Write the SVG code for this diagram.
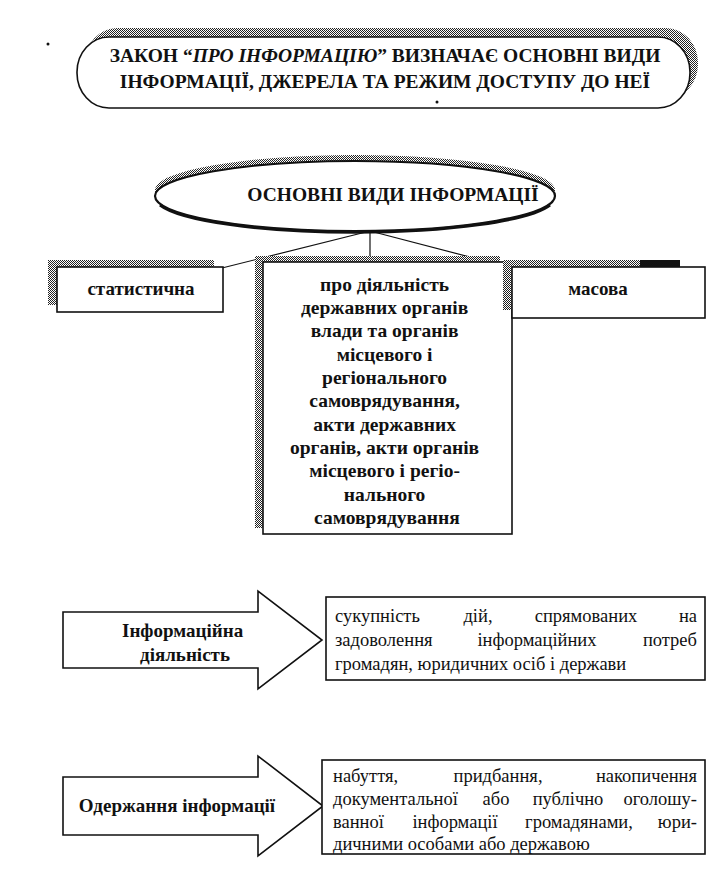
<svg xmlns="http://www.w3.org/2000/svg" width="719" height="877" viewBox="0 0 719 877">
<defs>
<pattern id="hatch" width="2" height="2" patternUnits="userSpaceOnUse">
<rect width="2" height="2" fill="#ffffff"/>
<rect width="1" height="1" fill="#222"/>
<rect x="1" y="1" width="1" height="1" fill="#222"/>
</pattern>
<style>
.b{font-weight:bold;fill:#111;}
.r{fill:#111;font-size:18.5px;}
.box{fill:#fff;stroke:#111;stroke-width:1.6;}
.sh{fill:url(#hatch);stroke:none;}
.ln{stroke:#111;stroke-width:1.2;fill:none;}
</style>
</defs>
<rect width="719" height="877" fill="#fff"/>
<circle cx="48" cy="44" r="1.5" fill="#111"/>

<g id="title" font-family="Liberation Serif, DejaVu Serif, serif">
<rect class="sh" x="85" y="28" width="613" height="71" rx="32" ry="35"/>
<rect class="box" x="77" y="37" width="613" height="71" rx="32" ry="35"/>
<text class="b" font-size="19.5" text-anchor="middle" x="385" y="62">ЗАКОН “<tspan font-style="italic">ПРО ІНФОРМАЦІЮ</tspan>” ВИЗНАЧАЄ ОСНОВНІ ВИДИ</text>
<text class="b" font-size="19.5" text-anchor="middle" x="385" y="88">ІНФОРМАЦІЇ, ДЖЕРЕЛА ТА РЕЖИМ ДОСТУПУ ДО НЕЇ</text>
<circle cx="437" cy="102" r="1.5" fill="#111"/>
</g>

<g id="types" font-family="Liberation Serif, DejaVu Serif, serif">
<ellipse class="sh" cx="355" cy="190" rx="200" ry="35"/>
<ellipse fill="#fff" stroke="#111" stroke-width="2.2" cx="355" cy="196" rx="200" ry="35"/>
<path d="M160 205 A200 35 0 0 0 550 205" fill="none" stroke="#111" stroke-width="3"/>
<text class="b" font-size="19.5" text-anchor="middle" x="393" y="201">ОСНОВНІ ВИДИ ІНФОРМАЦІЇ</text>
</g>

<g id="connectors">
<line class="ln" x1="370" y1="231" x2="222" y2="268"/>
<line class="ln" x1="370" y1="231" x2="370" y2="270"/>
<line class="ln" x1="370" y1="231" x2="512" y2="268"/>
</g>

<g id="stat" font-family="Liberation Serif, DejaVu Serif, serif">
<rect class="sh" x="48" y="260" width="166" height="45"/>
<rect class="box" x="57" y="267" width="166" height="45"/>
<text class="b" font-size="19" text-anchor="middle" x="141" y="295">статистична</text>
</g>

<g id="gov" font-family="Liberation Serif, DejaVu Serif, serif">
<rect class="sh" x="255" y="256" width="245" height="272"/>
<rect class="box" x="263" y="262" width="249" height="272"/>
<text class="b" font-size="19.5" text-anchor="middle">
<tspan x="387" y="291">про діяльність</tspan>
<tspan x="387" y="314">державних органів</tspan>
<tspan x="387" y="337">влади та органів</tspan>
<tspan x="387" y="361">місцевого і</tspan>
<tspan x="387" y="384">регіонального</tspan>
<tspan x="387" y="407">самоврядування,</tspan>
<tspan x="387" y="431">акти державних</tspan>
<tspan x="387" y="454">органів, акти органів</tspan>
<tspan x="387" y="477">місцевого і регіо-</tspan>
<tspan x="387" y="501">нального</tspan>
<tspan x="387" y="524">самоврядування</tspan>
</text>
</g>

<g id="mass" font-family="Liberation Serif, DejaVu Serif, serif">
<rect class="sh" x="503" y="260" width="176" height="50"/>
<rect x="640" y="260" width="40" height="7" fill="#111"/>
<rect class="box" x="512" y="267" width="193" height="51"/>
<text class="b" font-size="19" text-anchor="middle" x="598" y="295">масова</text>
</g>

<g id="activity" font-family="Liberation Serif, DejaVu Serif, serif">
<polygon class="box" points="63,612 258,612 258,591 322,640 258,689 258,668 63,668"/>
<text class="b" font-size="19" text-anchor="middle">
<tspan x="185" y="637">Інформаційна</tspan>
<tspan x="185" y="661">діяльність</tspan>
</text>
</g>

<g id="activity-def" font-family="Liberation Serif, DejaVu Serif, serif">
<rect class="box" x="326" y="597" width="379" height="83"/>
<text class="r" x="335" y="622">сукупність</text>
<text class="r" x="478" y="622" text-anchor="middle">дій,</text>
<text class="r" x="586" y="622" text-anchor="middle">спрямованих</text>
<text class="r" x="697" y="622" text-anchor="end">на</text>
<text class="r" x="335" y="646">задоволення</text>
<text class="r" x="537" y="646" text-anchor="middle">інформаційних</text>
<text class="r" x="697" y="646" text-anchor="end">потреб</text>
<text class="r" x="335" y="670">громадян, юридичних осіб і держави</text>
</g>

<g id="receive" font-family="Liberation Serif, DejaVu Serif, serif">
<polygon class="box" points="63,777 258,777 258,756 323,806 258,856 258,835 63,835"/>
<text class="b" font-size="19" text-anchor="middle" x="177" y="812">Одержання інформації</text>
</g>

<g id="receive-def" font-family="Liberation Serif, DejaVu Serif, serif">
<rect class="box" x="322" y="760" width="383" height="94"/>
<text class="r" x="333" y="782">набуття,</text>
<text class="r" x="498" y="782" text-anchor="middle">придбання,</text>
<text class="r" x="697" y="782" text-anchor="end">накопичення</text>
<text class="r" x="333" y="805">документальної</text>
<text class="r" x="496" y="805" text-anchor="middle">або</text>
<text class="r" x="568" y="805" text-anchor="middle">публічно</text>
<text class="r" x="697" y="805" text-anchor="end">оголошу-</text>
<text class="r" x="333" y="828">ванної</text>
<text class="r" x="455" y="828" text-anchor="middle">інформації</text>
<text class="r" x="579" y="828" text-anchor="middle">громадянами,</text>
<text class="r" x="697" y="828" text-anchor="end">юри-</text>
<text class="r" x="333" y="850">дичними особами або державою</text>
</g>
</svg>
